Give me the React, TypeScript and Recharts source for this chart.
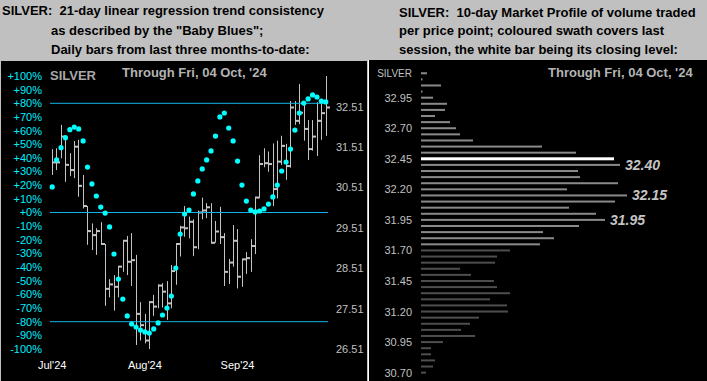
import React from 'react';
import { ComposedChart, BarChart, Bar, Line, XAxis, YAxis, ReferenceLine, Cell, LabelList } from 'recharts';

// daily bars, first session of July through Fri 04 Oct '24
const highs = [31.46, 31.48, 32.06, 31.74, 31.36, 31.66, 31.69, 30.82, 30.05, 29.62, 29.5, 29.65, 29.11, 28.24, 28.34, 28.55, 29.19, 29.31, 29.38, 28.84, 27.67, 27.38, 27.68, 27.85, 28.11, 28.14, 28.19, 28.59, 29.13, 29.56, 30.05, 29.79, 29.72, 29.94, 30.26, 30.12, 30.12, 29.68, 30.03, 29.38, 28.74, 29.58, 29.48, 28.74, 28.91, 29.23, 30.27, 31.31, 31.48, 31.4, 31.6, 31.67, 31.79, 31.59, 32.65, 32.65, 33.07, 32.63, 32.18, 32.18, 32.62, 32.63, 33.27];
const lows = [30.82, 30.94, 31.23, 30.65, 30.79, 30.74, 30.28, 29.99, 29.09, 28.96, 28.84, 29.11, 27.58, 27.79, 27.46, 27.79, 28.42, 28.34, 28.07, 26.61, 26.72, 26.65, 26.51, 27.33, 27.52, 27.54, 27.23, 27.52, 28.1, 28.8, 29.29, 29.25, 28.81, 28.98, 29.72, 29.75, 29.13, 29.14, 29.11, 28.07, 28.12, 28.55, 28.01, 28.05, 28.37, 28.42, 28.86, 30.24, 31.01, 30.9, 30.05, 30.24, 31.07, 30.7, 31.0, 32.06, 32.08, 31.67, 31.19, 31.42, 31.29, 31.69, 31.79];
const closes = [31.13, 31.13, 31.77, 31.07, 30.94, 31.52, 30.55, 30.05, 29.43, 29.33, 29.43, 29.11, 28.0, 28.11, 28.05, 28.55, 29.19, 28.67, 28.71, 27.38, 27.1, 26.72, 27.67, 27.56, 28.08, 27.93, 27.64, 28.44, 29.11, 29.52, 29.5, 29.66, 29.03, 29.89, 29.94, 30.02, 29.14, 29.42, 29.28, 28.42, 28.65, 29.19, 28.3, 28.73, 28.76, 29.06, 30.26, 31.09, 31.11, 31.09, 30.47, 31.15, 31.54, 31.04, 32.49, 32.16, 32.36, 31.96, 31.46, 31.77, 32.16, 32.35, 32.49];
// 21-day linear regression trend consistency, %
const trend = [18.7, 38.5, 47.5, 54.8, 60.7, 62.6, 61.2, 52.4, 33.3, 20.9, 12.1, 4.0, -0.4, -10.6, -30.4, -48.7, -63.4, -75.8, -81.7, -83.9, -86.1, -87.5, -88.3, -85.3, -80.9, -75.1, -70.0, -61.2, -40.7, -15.8, -1.1, 1.8, 13.6, 23.1, 31.9, 38.5, 45.1, 56.0, 70.0, 72.9, 61.9, 52.4, 37.7, 20.1, 8.4, 1.8, 0.4, 1.1, 2.6, 6.2, 11.4, 20.1, 30.4, 37.0, 46.5, 60.4, 72.9, 80.2, 83.2, 86.1, 84.6, 81.7, 81.0];

const monthTickIdx = [0, 21, 42];
const monthLabels = ["Jul'24", "Aug'24", "Sep'24"];
const pctTicks = [-100, -90, -80, -70, -60, -50, -40, -30, -20, -10, 0, 10, 20, 30, 40, 50, 60, 70, 80, 90, 100];
const priceTicks = [26.51, 27.51, 28.51, 29.51, 30.51, 31.51, 32.51];
const bandLines = [80, 0, -80];

// 10-day market profile, top bucket to bottom
const profilePrices = [33.15, 33.1, 33.05, 33.0, 32.95, 32.9, 32.85, 32.8, 32.75, 32.7, 32.65, 32.6, 32.55, 32.5, 32.45, 32.4, 32.35, 32.3, 32.25, 32.2, 32.15, 32.1, 32.05, 32.0, 31.95, 31.9, 31.85, 31.8, 31.75, 31.7, 31.65, 31.6, 31.55, 31.5, 31.45, 31.4, 31.35, 31.3, 31.25, 31.2, 31.15, 31.1, 31.05, 31.0, 30.95, 30.9, 30.85, 30.8, 30.75, 30.7];
const profileVolumes = [6, 1.5, 20, 1.5, 12, 26, 24, 14, 29, 35, 39, 52, 121, 155, 193, 199, 157, 159, 197, 146, 206, 194, 148, 175, 184, 158, 122, 133, 119, 89, 76, 74, 39, 50, 73, 76, 89, 69, 86, 87, 58, 49, 40, 54, 22, 10, 10, 14, 12, 5];
const closeLevel = 32.45;
const swathLow = 31.75;
const peakLabels = ['32.40', '32.15', '31.95'];

const font = '"Liberation Sans", Arial, sans-serif';

const bars = highs.map((h, i) => ({ day: i, high: h, low: lows[i], close: closes[i], range: [lows[i], h], trend: trend[i] }));
const profile = profilePrices.map((p, i) => ({ price: p, label: p.toFixed(2), vol: profileVolumes[i] }));

const HlcBar = (props: any) => {
  const { x, y, width, height, payload } = props;
  if (height == null) return null;
  const top = Math.min(y, y + height);
  const h = Math.abs(height);
  const cx = Math.round(x + width / 2);
  const span = payload.high - payload.low;
  const cy = span > 0 ? top + ((payload.high - payload.close) / span) * h : top;
  return (
    <g>
      <rect x={cx} y={top} width={1} height={Math.max(h, 1)} fill="#c4c4c4" />
      <rect x={cx} y={cy - 1} width={4} height={2} fill="#c4c4c4" />
    </g>
  );
};

const MonthTick = (props: any) => {
  const { x, y, payload } = props;
  const k = monthTickIdx.indexOf(payload.value);
  if (k < 0) return <g />;
  return (
    <text x={x} y={y} dy={12} textAnchor="middle" fill="#ffffff" fontSize={11} fontFamily={font}>
      {monthLabels[k]}
    </text>
  );
};

const pctFmt = (v: number) => (v >= 0 ? `+${v}%` : `${v}%`);

const LeftChart = () => (
  <ComposedChart width={707} height={381} data={bars} margin={{ top: 76, right: 339, bottom: 12, left: 0 }} barCategoryGap={0}>
    <XAxis dataKey="day" type="category" interval={0} axisLine={false} tickLine={false} tickMargin={2} height={20} tick={<MonthTick />} />
    <YAxis yAxisId="pct" orientation="left" width={50} domain={[-100, 100]} ticks={pctTicks} interval={0} axisLine={false} tickLine={false} tickFormatter={pctFmt} tick={{ fill: '#00eeff', fontSize: 11, fontFamily: font }} />
    <YAxis yAxisId="price" orientation="right" width={40} domain={[26.51, 33.27]} ticks={priceTicks} interval={0} axisLine={false} tickLine={false} tickFormatter={(v: number) => v.toFixed(2)} tick={{ fill: '#c0c0c0', fontSize: 11, fontFamily: font }} />
    {bandLines.map((v) => (
      <ReferenceLine key={v} yAxisId="pct" y={v} stroke="#14b4e6" strokeWidth={1} />
    ))}
    <Bar yAxisId="price" dataKey="range" barSize={4} shape={<HlcBar />} isAnimationActive={false} />
    <Line yAxisId="pct" dataKey="trend" stroke="none" dot={{ r: 2.6, fill: '#00ffff', stroke: 'none' }} activeDot={false} isAnimationActive={false} />
  </ComposedChart>
);

const ProfileBar = (props: any) => {
  const { x, y, width, height, payload } = props;
  const isClose = payload.price === closeLevel;
  const fill = isClose ? '#ffffff' : payload.price >= swathLow ? '#8a8a8a' : '#4e4e4e';
  const h = isClose ? 3 : 2;
  const mid = y + height / 2;
  return <rect x={x} y={mid - h / 2} width={Math.max(width, 1)} height={h} fill={fill} />;
};

const ProfileTick = (props: any) => {
  const { x, y, payload } = props;
  const i = profile.findIndex((d) => d.label === payload.value);
  let txt = '';
  if (i === 0) txt = 'SILVER';
  else if (i % 5 === 4) txt = payload.value;
  if (!txt) return <g />;
  return (
    <text x={x} y={y} dy="0.355em" textAnchor="end" fill="#c0c0c0" fontSize={i === 0 ? 10 : 11} fontFamily={font}>
      {txt}
    </text>
  );
};

const PeakLabel = (props: any) => {
  const { x, y, width, height, value } = props;
  if (!peakLabels.includes(value)) return null;
  return (
    <text x={x + width + 5} y={y + height / 2} dy="0.36em" fill="#c4c4c4" fontSize={14} fontWeight="bold" fontStyle="italic" fontFamily={font}>
      {value}
    </text>
  );
};

const RightChart = () => (
  <BarChart layout="vertical" width={707} height={381} data={profile} margin={{ top: 70.25, right: 6, bottom: 5.25, left: 371 }}>
    <XAxis type="number" hide domain={[0, 280]} />
    <YAxis type="category" dataKey="label" width={50} interval={0} axisLine={false} tickLine={false} tickMargin={3} tick={<ProfileTick />} />
    <Bar dataKey="vol" barSize={2} shape={<ProfileBar />} isAnimationActive={false}>
      {profile.map((d) => (
        <Cell key={d.label} />
      ))}
      <LabelList dataKey="label" content={<PeakLabel />} />
    </Bar>
  </BarChart>
);

const head: React.CSSProperties = { position: 'absolute', fontSize: 13, fontWeight: 'bold', color: '#000', whiteSpace: 'pre', lineHeight: '16px' };

export default function App() {
  return (
    <div style={{ position: 'absolute', left: 0, top: 0, width: 707, height: 381, background: '#c0c0c0', overflow: 'hidden', fontFamily: font }}>
      <div style={{ ...head, left: 2, top: 3 }}>SILVER:  21-day linear regression trend consistency</div>
      <div style={{ ...head, left: 51, top: 23 }}>as described by the "Baby Blues";</div>
      <div style={{ ...head, left: 51, top: 42 }}>Daily bars from last three months-to-date:</div>
      <div style={{ ...head, left: 399, top: 5 }}>SILVER:  10-day Market Profile of volume traded</div>
      <div style={{ ...head, left: 399, top: 23 }}>per price point; coloured swath covers last</div>
      <div style={{ ...head, left: 399, top: 42 }}>session, the white bar being its closing level:</div>

      <div style={{ position: 'absolute', left: 1, top: 61, width: 366, height: 320, background: '#000' }} />
      <div style={{ position: 'absolute', left: 368, top: 60, width: 339, height: 321, background: '#000', borderLeft: '1px solid #fff', boxSizing: 'border-box' }} />

      <div style={{ position: 'absolute', left: 0, top: 0 }}>
        <LeftChart />
      </div>
      <div style={{ position: 'absolute', left: 0, top: 0 }}>
        <RightChart />
      </div>

      <div style={{ position: 'absolute', left: 50, top: 68, fontSize: 13, fontWeight: 'bold', color: '#a8a8a8', lineHeight: '16px' }}>SILVER</div>
      <div style={{ position: 'absolute', left: 122, top: 65, fontSize: 13, fontWeight: 'bold', color: '#b4b4b4', lineHeight: '16px', whiteSpace: 'pre' }}>Through Fri, 04 Oct, '24</div>
      <div style={{ position: 'absolute', left: 548, top: 65, fontSize: 13, fontWeight: 'bold', color: '#b4b4b4', lineHeight: '16px', whiteSpace: 'pre' }}>Through Fri, 04 Oct, '24</div>
    </div>
  );
}
